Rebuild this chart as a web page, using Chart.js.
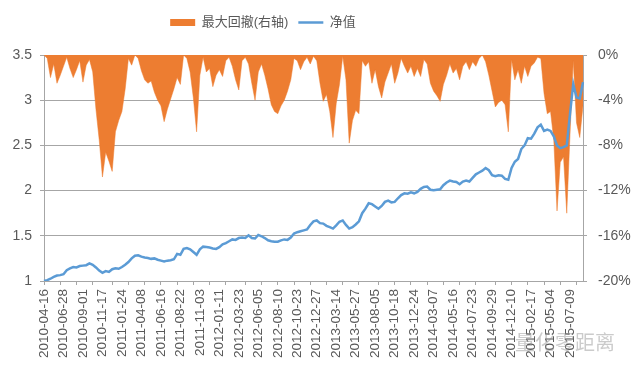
<!DOCTYPE html>
<html>
<head>
<meta charset="utf-8">
<script src="https://cdn.jsdelivr.net/npm/chart.js@4.4.0/dist/chart.umd.min.js"></script>
<style>
html, body { margin:0; padding:0; background:#ffffff; }
#boite { width:640px; height:375px; position:relative; }
</style>
</head>
<body>
<div id="boite"><canvas id="canvas"></canvas></div>
<script>
// dates affichées sur l'axe (une toutes les 6 valeurs)
var datesAxe = ["2010-04-16","2010-06-28","2010-09-01","2010-11-17","2011-01-24","2011-04-08","2011-06-16",
	"2011-08-22","2011-11-03","2012-01-11","2012-03-23","2012-06-05","2012-08-10","2012-10-23","2012-12-27",
	"2013-03-14","2013-05-27","2013-08-05","2013-10-18","2013-12-24","2014-03-07","2014-05-16","2014-07-23",
	"2014-09-29","2014-12-10","2015-02-17","2015-05-04","2015-07-09"];
var pasEtiquette = 6;

// max drawdown en % (axe de droite)
var retraitMax = [
	0, -0.3, -2.0, -0.8, -2.5, -1.8, -1.0, -0.2, -1.2, -2.0, -1.3, -0.5, -2.4, -0.9, -0.4,
	-1.5, -4.8, -7.5, -10.8, -8.6, -9.4, -10.3, -6.8, -5.8, -5.0, -3.0, -0.3, -0.9, 0,
	-0.3, -1.4, -2.2, -2.5, -2.3, -3.3, -4.0, -4.5, -5.9, -4.8, -3.9, -3.0, -2.0, -2.6,
	0, -0.3, -1.5, -3.8, -6.8, -1.8, -0.2,
	-1.5, -1.2, -2.8, -1.8, -1.3, -1.9, -0.5, -0.2,
	-1.0, -2.2, -3.1, -0.5,
	-0.2, -0.8, -2.5, -4.0, -1.5, -0.8, -1.8, -3.0, -4.4, -5.0, -5.2, -4.5, -4.0, -3.2, -2.2, -0.3,
	-0.5, -1.3, -0.6, -0.2, -0.8,
	-0.1, -0.5, -2.5, -4.1, -3.5, -5.0, -7.3, -4.3, -2.6, -0.1,
	-2.2, -7.8, -5.8, -4.9, -5.2, -0.5,
	-1.0, -0.6, -2.5, -1.3, -2.8, -3.8, -2.4, -1.6, -0.8, -2.5, -1.6, -0.3, -1.0, -1.6, -1.0, -1.9,
	-1.2, -1.9, -0.4, -0.8, -2.5, -3.2, -3.6, -4.1, -2.6, -1.8,
	-0.8, -1.6, -1.2, -2.2, -1.0, -0.6, -1.3, -0.6, -1.0, -0.3, 0, -0.6, -1.8, -3.2, -4.6, -4.2, -4.0, -4.4, -6.8,
	-0.4, -2.2, -1.3, -2.5, -1.0, -1.9, -1.0, -0.7, -0.2, -0.3,
	-3.4, -5.2, -5.0, -7.5, -13.8, -9.5, -9.0, -14.0, -7.0, -0.5, -6.0, -7.3, -4.5
];

// valeur nette (axe de gauche)
var valeurNette = [
	1.00, 1.01, 1.025, 1.045, 1.06, 1.065, 1.075, 1.12, 1.14, 1.155, 1.15, 1.165, 1.17, 1.175, 1.195,
	1.18, 1.15, 1.115, 1.09, 1.11, 1.10, 1.13, 1.14, 1.135, 1.155, 1.18, 1.21, 1.25, 1.28,
	1.285, 1.27, 1.26, 1.255, 1.245, 1.25, 1.235, 1.225, 1.215, 1.225, 1.23, 1.24, 1.30, 1.29,
	1.355, 1.365, 1.35, 1.32, 1.29, 1.35, 1.38,
	1.375, 1.37, 1.36, 1.355, 1.375, 1.405, 1.42, 1.44,
	1.46, 1.455, 1.475, 1.48,
	1.475, 1.505, 1.475, 1.47, 1.51, 1.495, 1.475, 1.45, 1.44, 1.435, 1.435, 1.45, 1.46, 1.455, 1.48, 1.525,
	1.54, 1.55, 1.56, 1.57, 1.62,
	1.66, 1.67, 1.64, 1.635, 1.61, 1.595, 1.58, 1.615, 1.655, 1.67,
	1.62, 1.58, 1.595, 1.625, 1.66, 1.75,
	1.80, 1.86, 1.85, 1.825, 1.80, 1.83, 1.875, 1.89, 1.87, 1.875, 1.915, 1.95, 1.97, 1.965, 1.98, 1.97,
	1.985, 2.02, 2.04, 2.045, 2.01, 2.005, 2.01, 2.015, 2.06, 2.09,
	2.11, 2.10, 2.095, 2.07, 2.10, 2.11, 2.10, 2.14, 2.18, 2.20, 2.22, 2.25, 2.225, 2.17, 2.16, 2.17, 2.165, 2.13, 2.12,
	2.25, 2.32, 2.35, 2.46, 2.50, 2.58, 2.575, 2.63, 2.70, 2.73,
	2.66, 2.675, 2.66, 2.60, 2.50, 2.47, 2.48, 2.50, 2.85, 3.18, 3.03, 3.02, 3.20
];

var gaucheMin = 1, gaucheMax = 3.5, gauchePas = 0.5;
var droiteMin = -20, droiteMax = 0, droitePas = 4;

var gris = '#a6a6a6';
var texte = '#595959';
var orange = '#ED7D31';
var bleu = '#5B9BD5';

var etiquettes = [];
for (var i = 0; i < valeurNette.length; i++) {
	etiquettes.push(i % pasEtiquette == 0 ? datesAxe[i / pasEtiquette] : '');
}

function couleurTick(ctx) {
	// petites graduations un peu plus serrées que les étiquettes, comme sur l'original
	var k = Math.round(ctx.index / 5.13);
	return Math.round(k * 5.13) == ctx.index ? gris : 'rgba(0,0,0,0)';
}

// légende plus haute (zone du graphique plus bas) et décalée vers la gauche
var margeLegende = {
	id: 'margeLegende',
	beforeInit: function(chart) {
		var fitOrig = chart.legend.fit;
		chart.legend.fit = function() {
			fitOrig.bind(chart.legend)();
			this.height += 16;
		};
	},
	afterLayout: function(chart) {
		chart.legend.right -= 114;
	}
};

var filigrane = {
	id: 'filigrane',
	afterDraw: function(chart) {
		var c = chart.ctx;
		c.save();
		c.font = '20px "Noto Sans CJK SC"';
		c.fillStyle = 'rgba(140,140,140,0.45)';
		c.textBaseline = 'middle';
		c.fillText('量化零距离', 515, 342);
		c.restore();
	}
};

Chart.defaults.font.family = "'Liberation Sans', 'Noto Sans CJK SC', sans-serif";
Chart.defaults.color = texte;

var config = {
	type: 'line',
	data: {
		labels: etiquettes,
		datasets: [{
			label: '最大回撤(右轴)',
			data: retraitMax,
			yAxisID: 'y1',
			backgroundColor: orange,
			borderColor: orange,
			borderWidth: 0.5,
			pointRadius: 0,
			tension: 0,
			fill: 'origin',
			order: 1
		}, {
			label: '净值',
			data: valeurNette,
			yAxisID: 'y',
			borderColor: bleu,
			backgroundColor: bleu,
			borderWidth: 2.5,
			pointRadius: 0,
			tension: 0,
			fill: false,
			order: 0
		}]
	},
	options: {
		responsive: true,
		maintainAspectRatio: false,
		animation: false,
		layout: { padding: { top: 6, left: 0, right: 0, bottom: 0 } },
		plugins: {
			legend: {
				position: 'top',
				labels: {
					font: { size: 13 },
					color: texte,
					usePointStyle: true,
					pointStyleWidth: 25,
					boxHeight: 7,
					padding: 10,
					sort: function(a, b) { return a.datasetIndex - b.datasetIndex; },
					generateLabels: function(chart) {
						var items = Chart.defaults.plugins.legend.labels.generateLabels(chart);
						items.forEach(function(it) {
							if (it.datasetIndex == 0) {
								it.pointStyle = 'rect';
								it.lineWidth = 0;
								it.fillStyle = orange;
							} else {
								it.pointStyle = 'line';
								it.lineWidth = 2.5;
								it.strokeStyle = bleu;
							}
						});
						return items;
					}
				}
			},
			tooltip: { enabled: false }
		},
		scales: {
			x: {
				offset: false,
				grid: { drawOnChartArea: false, tickLength: 4, tickColor: couleurTick },
				border: { color: gris },
				ticks: { autoSkip: false, minRotation: 90, maxRotation: 90, padding: 4, font: { size: 13.5 }, color: texte },
				afterFit: function(s) { s.height = 94; }
			},
			y: {
				position: 'left',
				min: gaucheMin,
				max: gaucheMax,
				grid: { color: gris, tickLength: 4 },
				border: { color: gris },
				ticks: {
					stepSize: gauchePas, padding: 8, font: { size: 14 }, color: texte,
					callback: function(v) { return String(v); }
				},
				afterFit: function(s) { s.width = 44; }
			},
			y1: {
				position: 'right',
				min: droiteMin,
				max: droiteMax,
				grid: { drawOnChartArea: false, tickLength: 4, color: gris },
				border: { color: gris },
				ticks: {
					stepSize: droitePas, padding: 11, font: { size: 14 }, color: texte,
					callback: function(v) { return v + '%'; }
				},
				afterFit: function(s) { s.width = 57; }
			}
		}
	},
	plugins: [margeLegende, filigrane]
};

window.onload = function() {
	window.monGraphe = new Chart(document.getElementById('canvas'), config);
};
</script>
</body>
</html>
